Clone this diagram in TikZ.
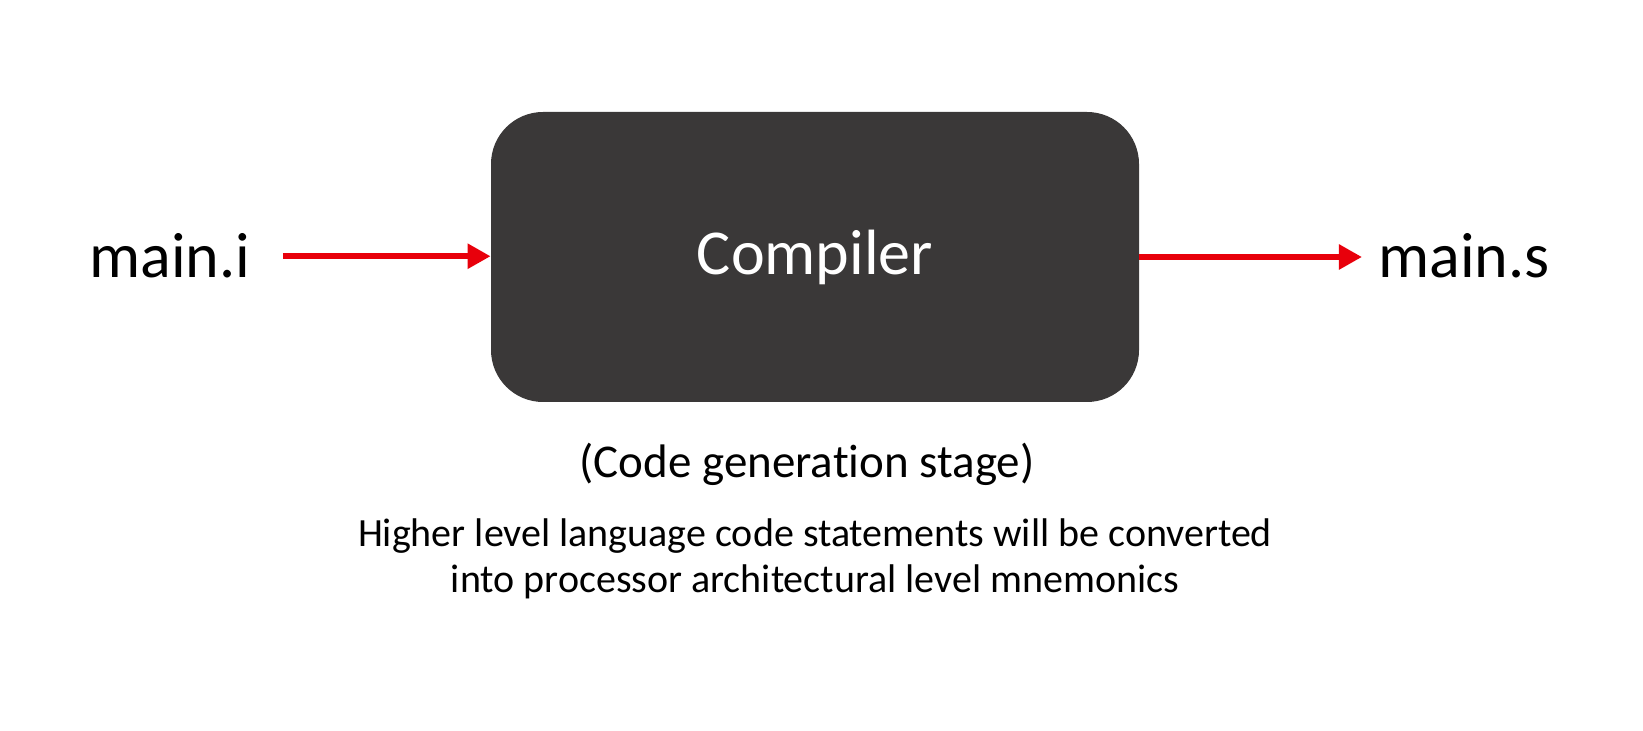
\documentclass[tikz,border=0pt]{standalone}
\usepackage{fontspec}
\setmainfont[Ligatures=NoCommon]{Carlito}
\usetikzlibrary{arrows.meta}
\definecolor{boxgray}{HTML}{3A3838}
\definecolor{flowred}{HTML}{E8000B}
\begin{document}
\begin{tikzpicture}[x=0.5pt,y=-0.5pt,
    box/.style={fill=boxgray,rounded corners=26pt,minimum width=324pt,minimum height=145pt,
      text=white,font=\fontsize{32}{38}\selectfont},
    fname/.style={inner sep=0pt,anchor=base,font=\fontsize{32}{38}\selectfont},
    flow/.style={draw=flowred,line width=2.8pt,-{Triangle[length=11.5pt,width=12pt]}}]
  % the slide, 1643 x 731 px
  \useasboundingbox (0,0) rectangle (1643,731);
  % the stage
  \node[box] (comp) at (815,257) {Compiler};
  % file in and file out
  \node[fname] (inp) at (170,278) {main.i};
  \node[fname] (outp) at (1464,278) {main.s};
  \draw[flow,shorten <=16pt] (inp.east) -- (inp.east -| comp.west);
  \draw[flow,shorten >=8pt] (comp.east) -- (comp.east -| outp.west);
  % text under the box (base = last line)
  \node[inner sep=0pt,anchor=base,font=\fontsize{23.5}{28}\selectfont] (stage) at (807,478) {(Code generation stage)};
  \node[inner sep=0pt,anchor=base,align=center,font=\fontsize{20}{23}\selectfont] (desc) at (815,592)
    {Higher level language code statements will be converted\\into processor architectural level mnemonics};
\end{tikzpicture}
\end{document}
